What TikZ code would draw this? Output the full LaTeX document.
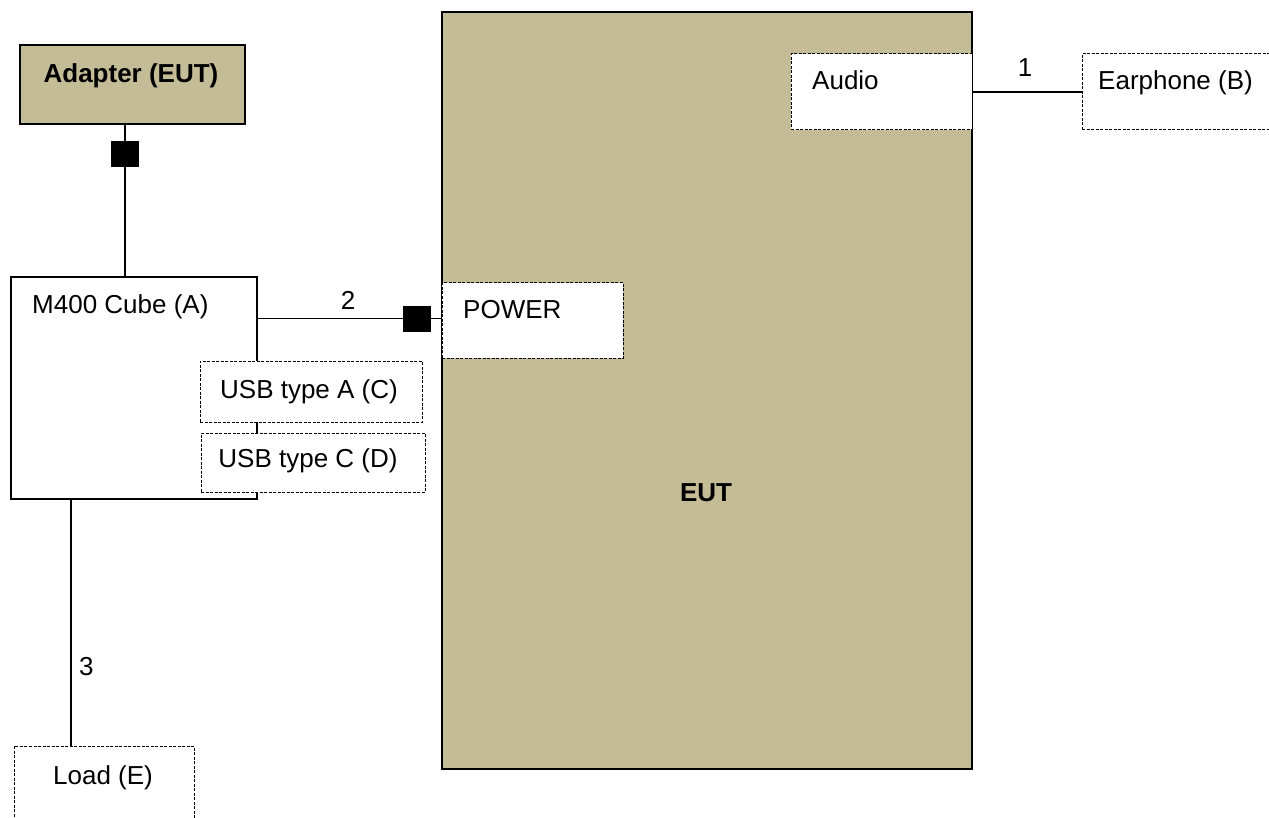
\documentclass[tikz,border=0pt]{standalone}
\usepackage{fontspec}
\setmainfont{Liberation Sans}
\definecolor{euttan}{HTML}{C4BC96}
\begin{document}
\begin{tikzpicture}[x=1pt,y=-1pt,
  box/.style={draw, line width=1.3pt, inner sep=0pt, outer sep=0pt, anchor=north west},
  dbox/.style={box, line width=1pt, dash pattern=on 3pt off 1.5pt, fill=white},
  ferrite/.style={fill=black, draw=black, inner sep=0pt, minimum width=27pt, minimum height=25pt},
  wire/.style={line width=1.8pt},
  txt/.style={font=\fontsize{26}{30}\selectfont, inner sep=0pt},
  btxt/.style={inner sep=0pt, font=\fontsize{26}{30}\selectfont\bfseries}]
\useasboundingbox (0,0) rectangle (1269,818);
% boxes
\node[box, fill=euttan, minimum width=530pt, minimum height=757pt] (eut) at (442,12) {};
\node[box, fill=euttan, minimum width=225pt, minimum height=79pt] (adapter) at (20,45) {};
\node[box, fill=white, minimum width=246pt, minimum height=222pt] (m400) at (11,277) {};
\node[dbox, minimum width=222pt, minimum height=61pt] (usba) at (200,361) {};
\node[dbox, minimum width=224pt, minimum height=59pt] (usbc) at (201,433) {};
\node[dbox, minimum width=181pt, minimum height=75pt] (power) at (442,283) {};
\node[dbox, minimum width=181pt, minimum height=76pt] (audio) at (791,54) {};
\node[dbox, minimum width=200pt, minimum height=76pt] (earphone) at (1082,54) {};
\node[dbox, minimum width=180pt, minimum height=90pt] (load) at (14,746) {};
% ferrites
\node[ferrite] (f1) at (125,154) {};
\node[ferrite] (f2) at (416.5,318.5) {};
% wires
\draw[wire] (adapter.south -| f1) -- (f1);
\draw[wire] (f1) -- (m400.north -| f1);
\draw[wire] (m400.east |- f2) -- (f2) -- (power.west |- f2);
\draw[wire] (audio.east) -- (earphone.west);
\coordinate (w3) at (71,499);
\draw[wire] (m400.south -| w3) -- (load.north -| w3);
% texts
\node[btxt, anchor=base] (tadapter) at (131,83) {Adapter (EUT)};
\node[txt, anchor=base west] (tm400) at (32,314) {M400 Cube (A)};
\node[txt, anchor=base west] (tpower) at (463,319) {POWER};
\node[txt, anchor=base] (tusba) at (309,398) {USB type A (C)};
\node[txt, anchor=base] (tusbc) at (308,467) {USB type C (D)};
\node[txt, anchor=base west] (taudio) at (812,90) {Audio};
\node[txt, anchor=base west] (tearphone) at (1098,90) {Earphone (B)};
\node[txt, anchor=base] (tone) at (1025,77) {1};
\node[txt, anchor=base] (ttwo) at (348,309) {2};
\node[txt, anchor=base west] (tthree) at (79,675) {3};
\node[txt, anchor=base] (tload) at (103,784) {Load (E)};
\node[btxt, anchor=base] (teut) at (706,501) {EUT};
\end{tikzpicture}
\end{document}
